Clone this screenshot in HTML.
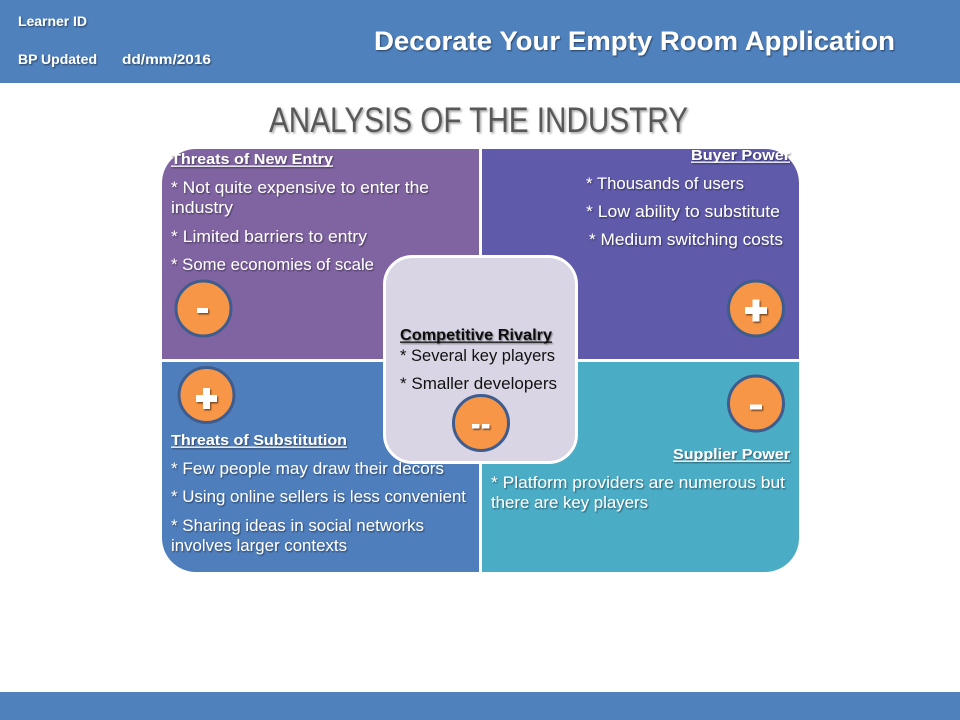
<!DOCTYPE html>
<html>
<head>
<meta charset="utf-8">
<style>
html,body{margin:0;padding:0;background:#fff;}
svg{display:block;}
text{font-family:"Liberation Sans",Arial,sans-serif;}
</style>
</head>
<body>
<svg width="960" height="720" viewBox="0 0 960 720" xmlns="http://www.w3.org/2000/svg">
<defs>
  <filter id="sh" x="-10%" y="-30%" width="130%" height="180%">
    <feDropShadow dx="1" dy="1.2" stdDeviation="0.7" flood-color="#000" flood-opacity="0.45"/>
  </filter>
  <filter id="shg" x="-10%" y="-30%" width="130%" height="180%">
    <feDropShadow dx="1.5" dy="1.5" stdDeviation="1" flood-color="#000" flood-opacity="0.35"/>
  </filter>
  <filter id="shs" x="-50%" y="-50%" width="200%" height="200%">
    <feDropShadow dx="1.2" dy="1.5" stdDeviation="0.8" flood-color="#000" flood-opacity="0.5"/>
  </filter>
</defs>

<!-- header / footer -->
<rect x="0" y="0" width="960" height="83" fill="#4F81BD"/>
<rect x="0" y="692" width="960" height="28" fill="#4F81BD"/>

<g fill="#fff" font-weight="bold" filter="url(#sh)">
  <text x="18" y="26" font-size="13.5" textLength="69" lengthAdjust="spacingAndGlyphs">Learner ID</text>
  <text x="18" y="64" font-size="13.5" textLength="79" lengthAdjust="spacingAndGlyphs">BP Updated</text>
  <text x="122" y="64" font-size="13.5" textLength="89" lengthAdjust="spacingAndGlyphs">dd/mm/2016</text>
  <text x="374" y="50" font-size="27" textLength="521" lengthAdjust="spacingAndGlyphs">Decorate Your Empty Room Application</text>
</g>

<text x="269" y="132" font-size="35" fill="#595959" filter="url(#shg)" textLength="419" lengthAdjust="spacingAndGlyphs">ANALYSIS OF THE INDUSTRY</text>

<!-- quadrants -->
<path d="M162 183 A34 34 0 0 1 196 149 L479 149 L479 359 L162 359 Z" fill="#8064A2"/>
<path d="M482 149 L765 149 A34 34 0 0 1 799 183 L799 359 L482 359 Z" fill="#5F5AAA"/>
<path d="M162 362 L479 362 L479 572 L196 572 A34 34 0 0 1 162 538 Z" fill="#4F7EBD"/>
<path d="M482 362 L799 362 L799 538 A34 34 0 0 1 765 572 L482 572 Z" fill="#4BACC6"/>

<!-- TL text -->
<g fill="#fff" filter="url(#sh)">
  <text x="171" y="164" font-size="15" font-weight="bold" textLength="162" lengthAdjust="spacingAndGlyphs">Threats of New Entry</text>
  <rect x="171" y="165.5" width="162" height="1.3"/>
  <text x="171" y="193" font-size="17" textLength="258" lengthAdjust="spacingAndGlyphs">* Not quite expensive to enter the</text>
  <text x="171" y="213" font-size="17" textLength="62" lengthAdjust="spacingAndGlyphs">industry</text>
  <text x="171" y="242" font-size="17" textLength="196" lengthAdjust="spacingAndGlyphs">* Limited barriers to entry</text>
  <text x="171" y="270" font-size="17" textLength="203" lengthAdjust="spacingAndGlyphs">* Some economies of scale</text>
</g>

<!-- TR text -->
<g fill="#fff" filter="url(#sh)">
  <text x="691" y="160" font-size="15" font-weight="bold" textLength="99" lengthAdjust="spacingAndGlyphs">Buyer Power</text>
  <rect x="691" y="161.5" width="99" height="1.3"/>
  <text x="586" y="189" font-size="17" textLength="158" lengthAdjust="spacingAndGlyphs">* Thousands of users</text>
  <text x="586" y="217" font-size="17" textLength="194" lengthAdjust="spacingAndGlyphs">* Low ability to substitute</text>
  <text x="589" y="245" font-size="17" textLength="194" lengthAdjust="spacingAndGlyphs">* Medium switching costs</text>
</g>

<!-- BL text -->
<g fill="#fff" filter="url(#sh)">
  <text x="171" y="445" font-size="15" font-weight="bold" textLength="176" lengthAdjust="spacingAndGlyphs">Threats of Substitution</text>
  <rect x="171" y="446.5" width="176" height="1.3"/>
  <text x="171" y="474" font-size="17" textLength="273" lengthAdjust="spacingAndGlyphs">* Few people may draw their decors</text>
  <text x="171" y="502" font-size="17" textLength="295" lengthAdjust="spacingAndGlyphs">* Using online sellers is less convenient</text>
  <text x="171" y="531" font-size="17" textLength="253" lengthAdjust="spacingAndGlyphs">* Sharing ideas in social networks</text>
  <text x="171" y="551" font-size="17" textLength="176" lengthAdjust="spacingAndGlyphs">involves larger contexts</text>
</g>

<!-- BR text -->
<g fill="#fff" filter="url(#sh)">
  <text x="673" y="459" font-size="15" font-weight="bold" textLength="117" lengthAdjust="spacingAndGlyphs">Supplier Power</text>
  <rect x="673" y="460.5" width="117" height="1.3"/>
  <text x="491" y="488" font-size="17" textLength="294" lengthAdjust="spacingAndGlyphs">* Platform providers are numerous but</text>
  <text x="491" y="508" font-size="17" textLength="157" lengthAdjust="spacingAndGlyphs">there are key players</text>
</g>

<!-- circles in quadrants -->
<g fill="#F79646" stroke="#3E5C8E" stroke-width="3">
  <circle cx="203.5" cy="308.5" r="27.5"/>
  <circle cx="756" cy="308.5" r="27.5"/>
  <circle cx="206.5" cy="395" r="27.5"/>
  <circle cx="756" cy="403.5" r="27.5"/>
</g>
<g fill="#fff" filter="url(#shs)">
  <rect x="197" y="308" width="11" height="5"/>
  <rect x="745" y="307" width="22" height="7"/>
  <rect x="752.5" y="299.5" width="7" height="22"/>
  <rect x="196" y="395" width="21" height="7"/>
  <rect x="203" y="388" width="7" height="21"/>
  <rect x="750" y="404.5" width="12" height="5"/>
</g>

<!-- center box -->
<rect x="384.5" y="256.5" width="192" height="206" rx="28" ry="28" fill="#D9D5E4" stroke="#fff" stroke-width="3"/>
<g fill="#111" filter="url(#sh)">
  <text x="400" y="340" font-size="16" font-weight="bold" textLength="152" lengthAdjust="spacingAndGlyphs">Competitive Rivalry</text>
  <rect x="400" y="341.5" width="152" height="1.3"/>
</g>
<g fill="#111">
  <text x="400" y="361" font-size="17" textLength="155" lengthAdjust="spacingAndGlyphs">* Several key players</text>
  <text x="400" y="389" font-size="17" textLength="157" lengthAdjust="spacingAndGlyphs">* Smaller developers</text>
</g>
<circle cx="481" cy="423" r="27.5" fill="#F79646" stroke="#3E5C8E" stroke-width="3"/>
<g fill="#fff" filter="url(#shs)">
  <rect x="472" y="424" width="7.5" height="4.5"/>
  <rect x="482" y="424" width="7.5" height="4.5"/>
</g>
</svg>
</body>
</html>
